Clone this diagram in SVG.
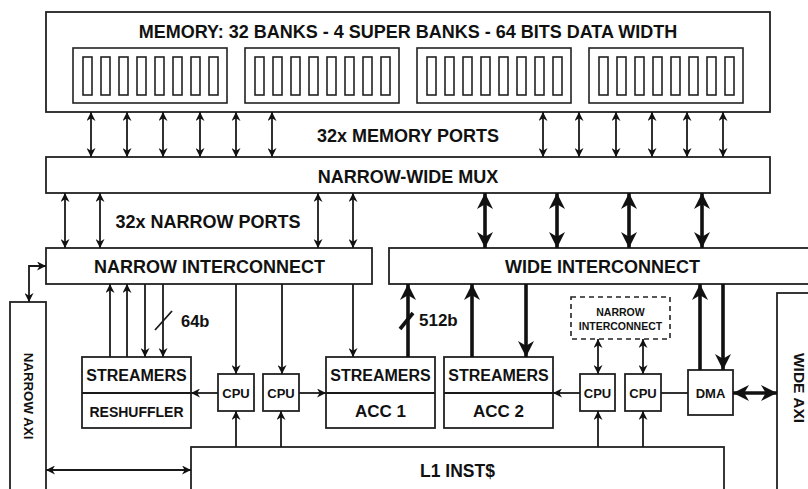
<svg xmlns="http://www.w3.org/2000/svg" width="808" height="489" viewBox="0 0 808 489">
  <defs>
    <style>
      .box { fill: #ffffff; stroke: #222222; stroke-width: 1.8; }
      .bank { fill: none; stroke: #222222; stroke-width: 1.6; }
      .dash { fill: #ffffff; stroke: #222222; stroke-width: 1.6; stroke-dasharray: 5 4; }
      .ln { fill: none; stroke: #1a1a1a; stroke-width: 1.8; }
      .thin-a { marker-end: url(#ah); }
      .thin-d { marker-start: url(#ah); marker-end: url(#ah); }
      .thk { fill: none; stroke: #111111; stroke-width: 3.6; }
      .thk-a { marker-end: url(#ahw); }
      .thk-d { marker-start: url(#ahw); marker-end: url(#ahw); }
      text { font-family: "Liberation Sans", Arial, sans-serif; font-weight: bold; fill: #111111; }
      .mid { text-anchor: middle; }
    </style>
    <marker id="ah" viewBox="0 0 10 10" refX="10" refY="5" markerWidth="9" markerHeight="9" markerUnits="userSpaceOnUse" orient="auto-start-reverse">
      <path d="M0,0 L10,5 L0,10 L3,5 Z" fill="#111111"/>
    </marker>
    <marker id="ahw" viewBox="0 0 10 10" refX="10" refY="5" markerWidth="16" markerHeight="16" markerUnits="userSpaceOnUse" orient="auto-start-reverse">
      <path d="M0,0 L10,5 L0,10 L3,5 Z" fill="#111111"/>
    </marker>
    <g id="bankgroup">
      <rect class="bank" x="0" y="0" width="154" height="55"/>
      <rect class="bank" x="10" y="9" width="9" height="38"/>
      <rect class="bank" x="28" y="9" width="9" height="38"/>
      <rect class="bank" x="46" y="9" width="9" height="38"/>
      <rect class="bank" x="64" y="9" width="9" height="38"/>
      <rect class="bank" x="82" y="9" width="9" height="38"/>
      <rect class="bank" x="100" y="9" width="9" height="38"/>
      <rect class="bank" x="118" y="9" width="9" height="38"/>
      <rect class="bank" x="136" y="9" width="9" height="38"/>
    </g>
  </defs>

  <rect width="808" height="489" fill="#ffffff"/>

  <!-- Memory with four super banks of eight banks each -->
  <g id="memory">
    <rect class="box" x="46" y="12" width="724" height="100"/>
    <text class="mid" x="408" y="37.5" font-size="18">MEMORY: 32 BANKS - 4 SUPER BANKS - 64 BITS DATA WIDTH</text>
    <use href="#bankgroup" x="73" y="48"/>
    <use href="#bankgroup" x="245" y="48"/>
    <use href="#bankgroup" x="417" y="48"/>
    <use href="#bankgroup" x="589" y="48"/>
  </g>

  <g id="mux">
    <rect class="box" x="46" y="157" width="724" height="36"/>
    <text class="mid" x="408" y="182.5" font-size="18">NARROW-WIDE MUX</text>
  </g>

  <g id="narrow-interconnect">
    <rect class="box" x="46" y="248" width="326" height="36"/>
    <text class="mid" x="209.5" y="273" font-size="18">NARROW INTERCONNECT</text>
  </g>

  <g id="wide-interconnect">
    <rect class="box" x="389" y="248" width="440" height="36"/>
    <text class="mid" x="602.5" y="273" font-size="18">WIDE INTERCONNECT</text>
  </g>

  <g id="narrow-axi">
    <rect class="box" x="10" y="302" width="36" height="200"/>
    <text class="mid" transform="translate(24,396) rotate(90)" font-size="13.3">NARROW AXI</text>
  </g>

  <g id="wide-axi">
    <rect class="box" x="777" y="293" width="60" height="210"/>
    <text class="mid" transform="translate(794,388) rotate(90)" font-size="15.5">WIDE AXI</text>
  </g>

  <g id="streamers-reshuffler">
    <rect class="box" x="82" y="357" width="109" height="71"/>
    <line class="ln" x1="82" y1="393" x2="191" y2="393"/>
    <text class="mid" x="136.5" y="381" font-size="16">STREAMERS</text>
    <text class="mid" x="136.5" y="417" font-size="14">RESHUFFLER</text>
  </g>

  <g id="acc1">
    <rect class="box" x="326" y="357" width="109" height="71"/>
    <line class="ln" x1="326" y1="393" x2="435" y2="393"/>
    <text class="mid" x="380.5" y="381" font-size="16">STREAMERS</text>
    <text class="mid" x="380.5" y="417" font-size="17">ACC 1</text>
  </g>

  <g id="acc2">
    <rect class="box" x="444" y="357" width="109" height="71"/>
    <line class="ln" x1="444" y1="393" x2="553" y2="393"/>
    <text class="mid" x="498.5" y="381" font-size="16">STREAMERS</text>
    <text class="mid" x="498.5" y="417" font-size="17">ACC 2</text>
  </g>

  <g id="cpu1">
    <rect class="box" x="218" y="374" width="36" height="37"/>
    <text class="mid" x="236" y="398" font-size="13">CPU</text>
  </g>
  <g id="cpu2">
    <rect class="box" x="263" y="374" width="36" height="37"/>
    <text class="mid" x="281" y="398" font-size="13">CPU</text>
  </g>
  <g id="cpu3">
    <rect class="box" x="580" y="374" width="35" height="37"/>
    <text class="mid" x="597.5" y="398" font-size="13">CPU</text>
  </g>
  <g id="cpu4">
    <rect class="box" x="625" y="374" width="36" height="37"/>
    <text class="mid" x="643" y="398" font-size="13">CPU</text>
  </g>

  <g id="dma">
    <rect class="box" x="688" y="370" width="45" height="45"/>
    <text class="mid" x="710.5" y="398" font-size="13">DMA</text>
  </g>

  <g id="narrow-interconnect-small">
    <rect class="dash" x="571" y="297" width="99" height="42"/>
    <text class="mid" x="620.5" y="316" font-size="10.5">NARROW</text>
    <text class="mid" x="620.5" y="329.5" font-size="10.5">INTERCONNECT</text>
  </g>

  <g id="l1-inst-cache">
    <rect class="box" x="191" y="447" width="533" height="60"/>
    <text x="420" y="476.5" font-size="17.5">L1 INST$</text>
  </g>

  <g id="labels">
    <text class="mid" x="408" y="142" font-size="18">32x MEMORY PORTS</text>
    <text class="mid" x="208" y="228" font-size="18">32x NARROW PORTS</text>
    <text x="181" y="327" font-size="16.5">64b</text>
    <text x="419" y="326" font-size="17">512b</text>
  </g>

  <g id="connectors">
    <!-- memory ports -->
    <line class="ln thin-d" x1="91" y1="112" x2="91" y2="157"/>
    <line class="ln thin-d" x1="127" y1="112" x2="127" y2="157"/>
    <line class="ln thin-d" x1="163" y1="112" x2="163" y2="157"/>
    <line class="ln thin-d" x1="200" y1="112" x2="200" y2="157"/>
    <line class="ln thin-d" x1="236" y1="112" x2="236" y2="157"/>
    <line class="ln thin-d" x1="272" y1="112" x2="272" y2="157"/>
    <line class="ln thin-d" x1="543" y1="112" x2="543" y2="157"/>
    <line class="ln thin-d" x1="579" y1="112" x2="579" y2="157"/>
    <line class="ln thin-d" x1="616" y1="112" x2="616" y2="157"/>
    <line class="ln thin-d" x1="652" y1="112" x2="652" y2="157"/>
    <line class="ln thin-d" x1="687" y1="112" x2="687" y2="157"/>
    <line class="ln thin-d" x1="723" y1="112" x2="723" y2="157"/>

    <!-- narrow ports -->
    <line class="ln thin-d" x1="65" y1="193" x2="65" y2="248"/>
    <line class="ln thin-d" x1="100" y1="193" x2="100" y2="248"/>
    <line class="ln thin-d" x1="318" y1="193" x2="318" y2="248"/>
    <line class="ln thin-d" x1="353" y1="193" x2="353" y2="248"/>

    <!-- wide ports -->
    <line class="thk thk-d" x1="485" y1="193" x2="485" y2="248"/>
    <line class="thk thk-d" x1="557" y1="193" x2="557" y2="248"/>
    <line class="thk thk-d" x1="629" y1="193" x2="629" y2="248"/>
    <line class="thk thk-d" x1="702" y1="193" x2="702" y2="248"/>

    <!-- narrow AXI to narrow interconnect -->
    <path class="ln thin-d" d="M46,266 H29 V302"/>
    <!-- narrow AXI to L1 -->
    <line class="ln thin-d" x1="46" y1="470" x2="191" y2="470"/>

    <!-- streamers/reshuffler to narrow interconnect -->
    <line class="ln thin-a" x1="110" y1="357" x2="110" y2="284"/>
    <line class="ln thin-a" x1="127" y1="357" x2="127" y2="284"/>
    <line class="ln thin-a" x1="145" y1="284" x2="145" y2="357"/>
    <line class="ln thin-a" x1="163" y1="284" x2="163" y2="357"/>
    <line class="ln" x1="155" y1="330" x2="172" y2="311"/>

    <!-- narrow interconnect to CPUs and ACC 1 -->
    <line class="ln thin-a" x1="236" y1="284" x2="236" y2="374"/>
    <line class="ln thin-a" x1="282" y1="284" x2="282" y2="374"/>
    <line class="ln thin-a" x1="353" y1="284" x2="353" y2="357"/>

    <!-- CPUs to accelerators -->
    <line class="ln thin-a" x1="218" y1="393" x2="191" y2="393"/>
    <line class="ln thin-a" x1="299" y1="393" x2="326" y2="393"/>
    <line class="ln thin-a" x1="580" y1="393" x2="553" y2="393"/>
    <line class="ln" x1="661" y1="393" x2="688" y2="393"/>

    <!-- L1 to CPUs -->
    <line class="ln thin-a" x1="236" y1="447" x2="236" y2="411"/>
    <line class="ln thin-a" x1="281" y1="447" x2="281" y2="411"/>
    <line class="ln thin-a" x1="598" y1="447" x2="598" y2="411"/>
    <line class="ln thin-a" x1="643" y1="447" x2="643" y2="411"/>

    <!-- small narrow interconnect to CPUs -->
    <line class="ln thin-d" x1="598" y1="339" x2="598" y2="374"/>
    <line class="ln thin-d" x1="643" y1="339" x2="643" y2="374"/>

    <!-- accelerators and DMA to wide interconnect -->
    <line class="thk thk-a" x1="408" y1="357" x2="408" y2="284"/>
    <line class="thk" x1="400" y1="329" x2="413" y2="313"/>
    <line class="thk thk-a" x1="472" y1="357" x2="472" y2="284"/>
    <line class="thk thk-a" x1="526" y1="284" x2="526" y2="357"/>
    <line class="thk thk-a" x1="700" y1="370" x2="700" y2="284"/>
    <line class="thk thk-a" x1="723" y1="284" x2="723" y2="370"/>

    <!-- DMA to wide AXI -->
    <line class="thk thk-d" x1="733" y1="393" x2="777" y2="393"/>
  </g>
</svg>
